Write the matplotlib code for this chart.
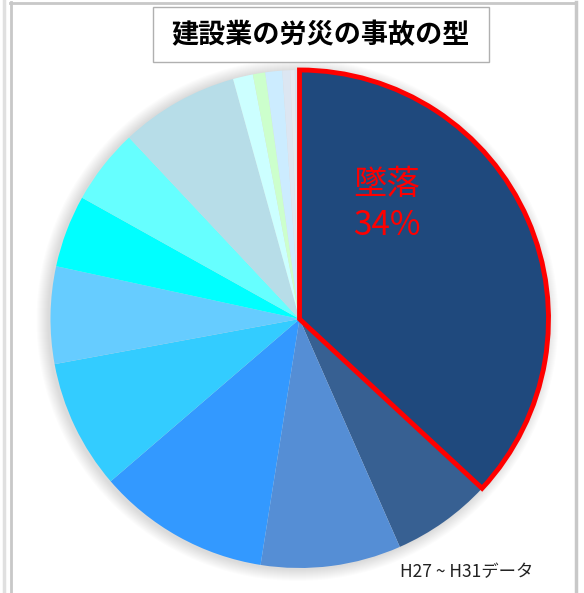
import matplotlib
matplotlib.use('Agg')
import matplotlib.pyplot as plt
from matplotlib.patches import Circle, Rectangle
from matplotlib.lines import Line2D

plt.rcParams['font.family'] = ['Noto Sans CJK JP', 'DejaVu Sans']

# share of each accident type
shares = [36.9, 6.5, 9.1, 11.2, 8.4, 6.3, 4.7, 4.9, 7.7, 1.3, 0.8, 1.1, 0.5, 0.3, 0.3]
colors = ['#1F497D', '#376092', '#558ED5', '#3399FF', '#33CCFF', '#66CCFF',
          '#00FFFF', '#66FFFF', '#B7DDE8', '#CCFFFF', '#CCFFCC', '#CCECFF',
          '#DCE6F2', '#E4E8F0', '#D9E1EE']
title = '建設業の労災の事故の型'
top_label = '墜落\n34%'
note = 'H27 ~ H31データ'

W, H = 584, 593
fig = plt.figure(figsize=(W / 100, H / 100), dpi=100)
ax = fig.add_axes([0, 0, 1, 1])

cx, cy, r = 299.5, H - 319, 249

# soft shadow around the pie
for i in range(12):
    ax.add_patch(Circle((cx - 2, cy - 1), r + 1 + i * 1.0, facecolor='black',
                        edgecolor='none', alpha=0.011, zorder=1))

wedges, _ = ax.pie(shares, colors=colors, startangle=90, counterclock=False,
                   center=(cx, cy), radius=r,
                   wedgeprops={'linewidth': 0, 'zorder': 2})
wedges[0].set_edgecolor('#FF0000')
wedges[0].set_linewidth(3.5)
wedges[0].set_zorder(3)

ax.set_xlim(0, W)
ax.set_ylim(0, H)
ax.set_aspect('auto')
ax.axis('off')

# frame lines
ax.add_line(Line2D([4, 4], [0, H], color='#E0E0E0', lw=2.5))
ax.add_line(Line2D([10.5, 10.5], [0, H - 2], color='#C8C8C8', lw=2))
ax.add_line(Line2D([10, 576], [H - 2.5, H - 2.5], color='#C8C8C8', lw=2))
ax.add_line(Line2D([575.5, 575.5], [0, H - 2], color='#C8C8C8', lw=2.5))

# title box
ax.add_patch(Rectangle((153, H - 62), 336, 55, facecolor='white',
                       edgecolor='#B0B0B0', lw=1, zorder=5))
ax.text(321, H - 35, title, fontsize=19.5, fontweight='bold', color='black',
        ha='center', va='center', zorder=6)

ax.text(387, H - 205, top_label, fontsize=24, color='#FF0000',
        ha='center', va='center', linespacing=1.25, zorder=6)

ax.text(467, H - 572, note, fontsize=12.5, color='#222222',
        ha='center', va='center', zorder=6)

fig.savefig('out.png', dpi=100)
